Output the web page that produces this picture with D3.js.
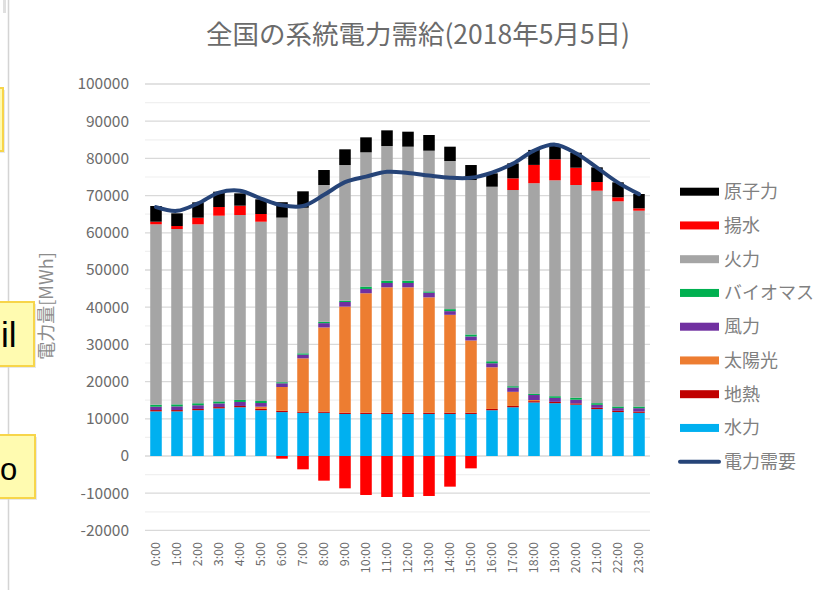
<!DOCTYPE html>
<html><head><meta charset="utf-8">
<script src="https://cdn.jsdelivr.net/npm/d3@7"></script>
<style>
html,body{margin:0;padding:0;background:#fff;}
svg{display:block;font-family:"Noto Sans CJK JP","Noto Sans",sans-serif;}
</style></head>
<body>
<svg id="chart" width="833" height="590"></svg>
<script>
const hours = ["0:00","1:00","2:00","3:00","4:00","5:00","6:00","7:00","8:00","9:00","10:00","11:00","12:00","13:00","14:00","15:00","16:00","17:00","18:00","19:00","20:00","21:00","22:00","23:00"];
const hydro      = [12000,12000,12300,12800,13100,12300,11800,11600,11600,11300,11300,11300,11300,11300,11300,11300,12300,13100,14400,14200,13800,12600,11800,11600];
const geothermal = [350,350,350,350,350,350,350,350,350,350,350,350,350,350,350,350,350,350,350,350,350,350,350,350];
const solar      = [0,0,0,0,0,600,6400,14300,22600,28500,32100,33700,33700,31000,26300,19400,11200,3800,300,0,0,0,0,0];
const wind       = [900,990,990,990,1080,990,990,990,1160,1250,1160,1160,1160,1250,990,1080,1080,1160,1340,1080,990,810,720,900];
const biomass    = [540,540,540,540,540,540,300,360,360,360,630,630,630,360,540,540,540,360,300,450,540,450,450,450];
const thermal    = [48490,47140,48100,49920,49710,48200,44250,39140,36780,36460,36090,36190,36010,37810,39820,41520,46920,52730,56640,58030,57170,57110,55140,52640];
const pumpedGen  = [700,800,1780,2330,2510,2070,0,0,0,0,0,0,0,0,0,0,0,3140,4920,5640,4650,2330,1080,640];
const pumpedUse  = [0,0,0,0,0,0,-720,-3580,-6630,-8690,-10480,-11020,-11020,-10750,-8240,-3320,0,0,0,0,0,0,0,0];
const nuclear    = [4220,3420,4130,4120,3320,3950,4130,4410,4030,4220,4030,4210,4030,4220,3850,4030,3600,4030,4030,4120,4030,3950,4030,3850];
const demand     = [66900,65900,67900,70800,71300,69200,67400,67200,70200,73600,75100,76400,76100,75400,74800,74800,76200,78600,82100,83700,81400,77500,73500,70400];
const yTicks = [-20000,-10000,0,10000,20000,30000,40000,50000,60000,70000,80000,90000,100000];
const seriesNames = ["水力","地熱","太陽光","風力","バイオマス","火力","揚水","原子力"];
const legendNames = ["原子力","揚水","火力","バイオマス","風力","太陽光","地熱","水力"];
const demandName = "電力需要";
const titleText = "全国の系統電力需給(2018年5月5日)";
const yTitle = "電力量[MWh]";

const colors = {"水力":"#00B0F0","地熱":"#C00000","太陽光":"#ED7D31","風力":"#7030A0","バイオマス":"#00B050","火力":"#A5A5A5","揚水":"#FF0000","原子力":"#000000"};
const seriesData = [hydro, geothermal, solar, wind, biomass, thermal, pumpedGen, nuclear];

const svg = d3.select("#chart");

// left-side screen artifacts
svg.append("rect").attr("x",3).attr("y",0).attr("width",3).attr("height",13).attr("fill","#e0e0e0");
svg.append("line").attr("x1",8.5).attr("x2",8.5).attr("y1",0).attr("y2",590).attr("stroke","#d4d4d4").attr("stroke-width",1.5);
function callout(x0,y0,x1,y1){
  svg.append("rect").attr("x",x0+2).attr("y",y0+2).attr("width",x1-x0).attr("height",y1-y0).attr("fill","#d8d8d8").attr("opacity",0.6);
  svg.append("rect").attr("x",x0).attr("y",y0).attr("width",x1-x0).attr("height",y1-y0).attr("fill","#FFFBB0").attr("stroke","#F7D54A").attr("stroke-width",2);
}
callout(-5,88,3,151);
callout(-5,302,34,366);
callout(-5,435,35,498);
svg.append("text").attr("x",1).attr("y",347).attr("text-anchor","start").attr("font-family","Liberation Sans, Arial").attr("font-size",35).attr("fill","#000").text("il");
svg.append("text").attr("x",0).attr("y",480).attr("text-anchor","start").attr("font-family","Liberation Sans, Arial").attr("font-size",31).attr("fill","#000").text("o");

const x = d3.scaleBand().domain(hours).range([145.5,649.5]).paddingInner(0.45).paddingOuter(0.225);
const y = d3.scaleLinear().domain([-20000,100000]).range([530.4,84]);

// gridlines
const g = svg.append("g");
d3.range(-20000,100001,5000).forEach(v=>{
  const major = v % 10000 === 0;
  g.append("line").attr("x1",145).attr("x2",650).attr("y1",y(v)).attr("y2",y(v))
   .attr("stroke", major ? "#d9d9d9" : "#f0f0f0").attr("stroke-width", major?1.3:1.2);
});

// y axis labels
const yAxis = d3.axisLeft(y).tickValues(yTicks).tickSize(0).tickPadding(0).tickFormat(d=>String(d));
const ya = svg.append("g").attr("transform","translate(129,0)").call(yAxis);
ya.select(".domain").remove();
ya.selectAll("text").attr("font-size",15.5).attr("fill","#6b6b6b").attr("font-family","Noto Sans CJK JP");

// x axis labels
const xAxis = d3.axisBottom(x).tickSize(0).tickPadding(0);
const xa = svg.append("g").attr("transform","translate(0,542)").call(xAxis);
xa.select(".domain").remove();
xa.selectAll("text").attr("font-size",12.5).attr("fill","#6b6b6b").attr("font-family","Noto Sans CJK JP")
  .attr("transform","rotate(-90)").attr("text-anchor","end").attr("x",0).attr("y",0).attr("dy","0.35em").attr("dx",0);

// stacked bars
const table = hours.map((h,i)=>{ const o={hour:h}; seriesNames.forEach((s,k)=>o[s]=seriesData[k][i]); return o; });
const stack = d3.stack().keys(seriesNames)(table);
stack.forEach(layer=>{
  svg.append("g").attr("fill",colors[layer.key]).selectAll("rect").data(layer).join("rect")
    .attr("x",d=>x(d.data.hour)).attr("width",x.bandwidth())
    .attr("y",d=>y(d[1])).attr("height",d=>Math.max(0,y(d[0])-y(d[1])));
});
// negative pumping
svg.append("g").attr("fill",colors["揚水"]).selectAll("rect").data(pumpedUse.map((v,i)=>({h:hours[i],v}))).join("rect")
  .attr("x",d=>x(d.h)).attr("width",x.bandwidth()).attr("y",y(0)).attr("height",d=>y(d.v)-y(0));

// demand line
const line = d3.line().x((d,i)=>x(hours[i])+x.bandwidth()/2).y(d=>y(d)).curve(d3.curveCatmullRom.alpha(0.5));
svg.append("path").datum(demand).attr("d",line).attr("fill","none").attr("stroke","#264478").attr("stroke-width",4).attr("stroke-linejoin","round").attr("stroke-linecap","round");

// title
svg.append("text").attr("x",418).attr("y",44).attr("text-anchor","middle").attr("font-size",26.5).attr("fill","#6b6b6b").text(titleText);
// y title
svg.append("text").attr("transform","translate(53,306) rotate(-90)").attr("text-anchor","middle").attr("font-size",18).attr("fill","#8c8c8c").text(yTitle);

// legend
const lg = svg.append("g");
legendNames.forEach((n,i)=>{
  const cy = 191.7 + i*33.75;
  lg.append("rect").attr("x",680).attr("y",cy-4).attr("width",39).attr("height",8).attr("fill",colors[n]);
  lg.append("text").attr("x",724).attr("y",cy).attr("dy","0.35em").attr("font-size",18).attr("fill","#808080").text(n);
});
const ly = 191.7 + 8*33.75;
lg.append("line").attr("x1",680).attr("x2",719).attr("y1",ly).attr("y2",ly).attr("stroke","#264478").attr("stroke-width",4).attr("stroke-linecap","round");
lg.append("text").attr("x",724).attr("y",ly).attr("dy","0.35em").attr("font-size",18).attr("fill","#808080").text(demandName);
</script>
</body></html>
